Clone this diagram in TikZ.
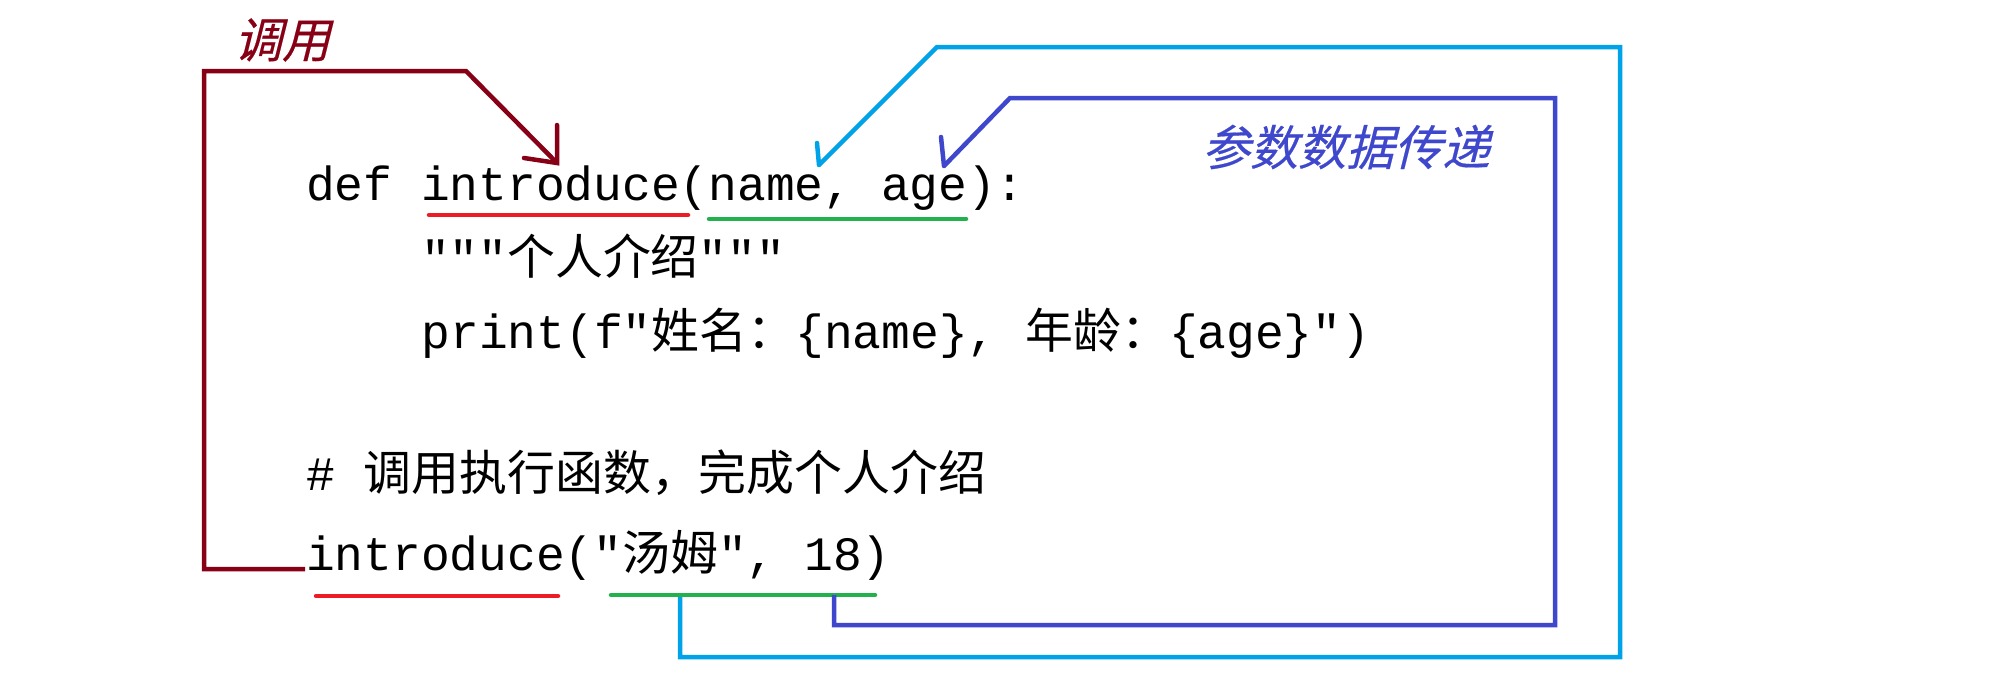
\documentclass[tikz,border=0pt]{standalone}
\usepackage{fontspec}
\setmonofont{Liberation Mono}
\newfontfamily\cjk{Noto Sans CJK SC}
\newfontfamily\cjksl[FakeSlant=0.25,FakeBold=0.4]{Noto Sans CJK SC}
\newcommand{\C}[1]{{\cjk #1}}
\definecolor{pdarkred}{HTML}{880015}
\definecolor{pred}{HTML}{ED1C24}
\definecolor{pgreen}{HTML}{22B14C}
\definecolor{pcyan}{HTML}{00A2E8}
\definecolor{pblue}{HTML}{3F48CC}
\begin{document}
\begin{tikzpicture}[x=1pt,y=-1pt,
  code/.style={anchor=base west, inner sep=0pt, font=\ttfamily\fontsize{47.9}{50}\selectfont},
  conn/.style={line width=4.5pt, line join=miter},
  uline/.style={line width=4.5pt, line cap=round},
  tag/.style={inner sep=0pt, font=\cjksl\fontsize{48}{50}\selectfont}]
\fill[white] (0,0) rectangle (2004,672);
\useasboundingbox (0,0) rectangle (2004,672);
% code lines
\node[code] (l1) at (306,200) {def introduce(name, age):};
\node[code] (l2) at (420.8,274) {"""\C{个人介绍}"""};
\node[code] (l3) at (421.5,348) {print(f"\C{姓名：}\{name\}, \C{年龄：}\{age\}")};
\node[code] (l5) at (306,490) {\# \C{调用执行函数，完成个人介绍}};
\node[code] (l6) at (306,570) {introduce("\C{汤姆}", 18)};
% labels
\node[tag, text=pdarkred] (call) at (282,40) {调用};
\node[tag, text=pblue] (param) at (1346,147) {参数数据传递};
% underlines
\coordinate (u1a) at (429,215); \coordinate (u1b) at (688,215);
\coordinate (g1a) at (709,219); \coordinate (g1b) at (966,219);
\coordinate (u6a) at (316,596); \coordinate (u6b) at (558,596);
\coordinate (g6a) at (611,595); \coordinate (g6b) at (875,595);
\draw[uline, pred] (u1a) -- (u1b);
\draw[uline, pgreen] (g1a) -- (g1b);
\draw[uline, pred] (u6a) -- (u6b);
\draw[uline, pgreen] (g6a) -- (g6b);
% call connector (dark red)
\coordinate (rs) at (305,569);
\coordinate (rtip) at (557,163);
\draw[conn, pdarkred] (rs) -- (204,569) -- (204,71) -- (466,71) -- (rtip);
\draw[conn, pdarkred, line cap=round] (557,125) -- (rtip) -- (524,158);
% name connector (cyan)
\coordinate (cs) at (680,597);
\coordinate (ctip) at (819,165);
\draw[conn, pcyan] (cs) -- (680,657) -- (1620,657) -- (1620,47) -- (937,47) -- (ctip);
\draw[conn, pcyan, line cap=round] (817,143) -- (ctip);
% age connector (blue)
\coordinate (bs) at (834,595);
\coordinate (btip) at (944,166);
\draw[conn, pblue] (bs) -- (834,625) -- (1555,625) -- (1555,98) -- (1010,98) -- (btip);
\draw[conn, pblue, line cap=round] (941,137) -- (btip);
\end{tikzpicture}
\end{document}
